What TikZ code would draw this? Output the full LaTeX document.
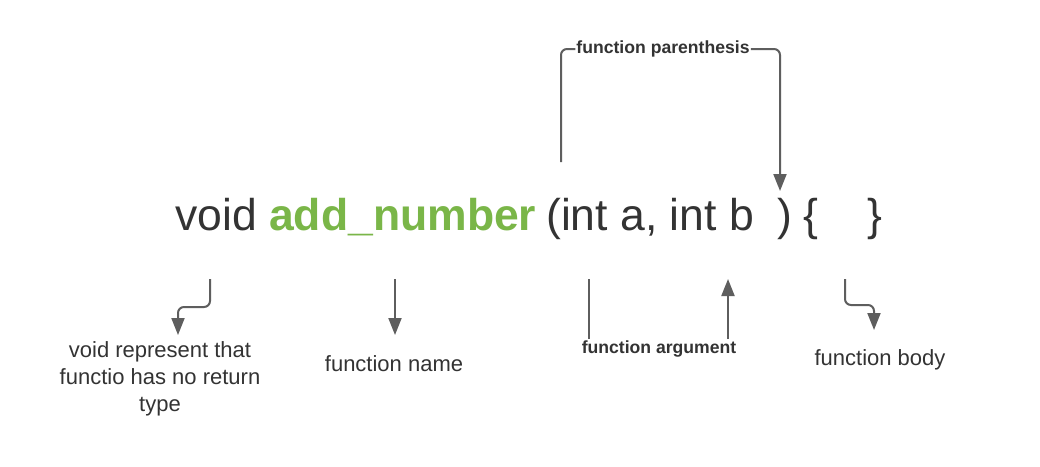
\documentclass[tikz,border=0pt]{standalone}
\usepackage{fontspec}
\setmainfont{Liberation Sans}
\usetikzlibrary{arrows.meta}

\definecolor{ink}{HTML}{333333}
\definecolor{fgreen}{HTML}{7AB648}
\definecolor{wire}{HTML}{5E5E5E}

\begin{document}
\begin{tikzpicture}[x=1pt, y=-1pt,
  code/.style={inner sep=0pt, anchor=base west, text=ink,
    font=\fontsize{44.5}{52}\selectfont},
  note/.style={inner sep=0pt, text=ink, align=center,
    font=\fontsize{22}{27}\selectfont},
  tag/.style={inner sep=1pt, text=ink,
    font=\fontsize{17.6}{20}\selectfont\bfseries},
  wireline/.style={draw=wire, line width=2pt, rounded corners=6pt},
  pointer/.style={wireline, -{Triangle[length=17pt, width=13pt]}}]

  \fill[white] (0,0) rectangle (1040,466);
  \useasboundingbox (0,0) rectangle (1040,466);

  % the function signature
  \node[code] (kw)     at (175,230) {void};
  \node[code, text=fgreen, font=\fontsize{44.5}{52}\selectfont\bfseries]
                       (fname)  at (269,230) {add\_number};
  \node[code] (args)   at (546,230) {(int a, int b};
  \node[code] (rpar)   at (777,230) {)};
  \node[code] (lbrace) at (803,230) {\{};
  \node[code] (rbrace) at (867,230) {\}};

  % annotations
  \node[tag]  (partag)  at (663,49)  {function parenthesis};
  \node[note] (kwnote)  at (160,379) {void represent that\\functio has no return\\type};
  \node[note] (namenote) at (394,364) {function name};
  \node[tag]  (argtag)  at (659,349) {function argument};
  \node[note] (bodynote) at (880,360) {function body};

  % connector end points
  \coordinate (partail) at (561,162);
  \coordinate (partip)  at (780,191);
  \coordinate (kwtop)   at (210,279);
  \coordinate (kwtip)   at (178,335);
  \coordinate (nametop) at (395,279);
  \coordinate (nametip) at (395,335);
  \coordinate (argltop) at (589,279);
  \coordinate (arglbot) at (589,339);
  \coordinate (argrbot) at (728,339);
  \coordinate (argrtip) at (728,279);
  \coordinate (bodytop) at (845,279);
  \coordinate (bodytip) at (874,330);

  % connectors
  \draw[wireline] (partail) |- (partag.west);
  \draw[pointer]  (partag.east) -| (partip);
  \draw[pointer]  (kwtop) -- ++(0,28) -| (kwtip);
  \draw[pointer]  (nametop) -- (nametip);
  \draw[wireline] (argltop) -- (arglbot);
  \draw[pointer]  (argrbot) -- (argrtip);
  \draw[pointer]  (bodytop) -- ++(0,26) -| (bodytip);
\end{tikzpicture}
\end{document}
